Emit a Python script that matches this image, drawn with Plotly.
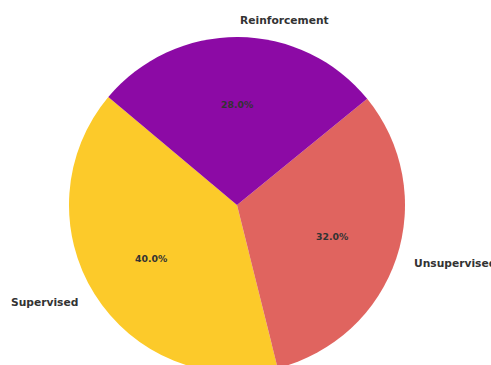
import math
import plotly.graph_objects as go

labels = ["Supervised", "Unsupervised", "Reinforcement"]
values = [40, 32, 28]
colors = ["#fcca2a", "#e0645f", "#8c0aa5"]
start_angle = 140  # degrees, counterclockwise from 3 o'clock

R = 168
CX, CY = 237, 205
W, H = 491, CY + R
ml, mt = CX - R, CY - R
mr, mb = W - (CX + R), H - (CY + R)

total = sum(values)
first_span = 360 * values[0] / total
# plotly (counterclockwise) puts the end of the first slice at the rotation point
rotation = 90 - (start_angle + first_span)

fig = go.Figure(go.Pie(
    labels=labels, values=values, sort=False,
    direction="counterclockwise", rotation=rotation,
    marker=dict(colors=colors, line=dict(width=0)),
    textinfo="none", hoverinfo="label+percent", showlegend=False,
))

ann = []
acc = start_angle
for lab, v in zip(labels, values):
    span = 360 * v / total
    mid = math.radians(acc + span / 2)
    acc += span
    c, s = math.cos(mid), math.sin(mid)
    ann.append(dict(x=0.5 + 0.5 * 1.1 * c, y=0.5 + 0.5 * 1.1 * s, xref="paper", yref="paper",
                    text=f"<b>{lab}</b>", showarrow=False,
                    xanchor="left" if c > 0 else "right", yanchor="middle",
                    font=dict(family="DejaVu Sans", size=10.7, color="#333333")))
    ann.append(dict(x=0.5 + 0.5 * 0.6 * c, y=0.5 + 0.5 * 0.6 * s, xref="paper", yref="paper",
                    text=f"<b>{100 * v / total:.1f}%</b>", showarrow=False,
                    xanchor="center", yanchor="middle",
                    font=dict(family="DejaVu Sans", size=9.3, color="#333333")))

fig.update_layout(
    width=W, height=H,
    margin=dict(l=ml, r=mr, t=mt, b=mb, pad=0),
    paper_bgcolor="white", plot_bgcolor="white",
    annotations=ann,
)
fig.write_html(
    "out.html",
    config={"displayModeBar": False},
    post_script=("document.body.style.margin='0';"
                 "document.body.style.overflow='hidden';"
                 "document.documentElement.style.overflow='hidden';"),
)
